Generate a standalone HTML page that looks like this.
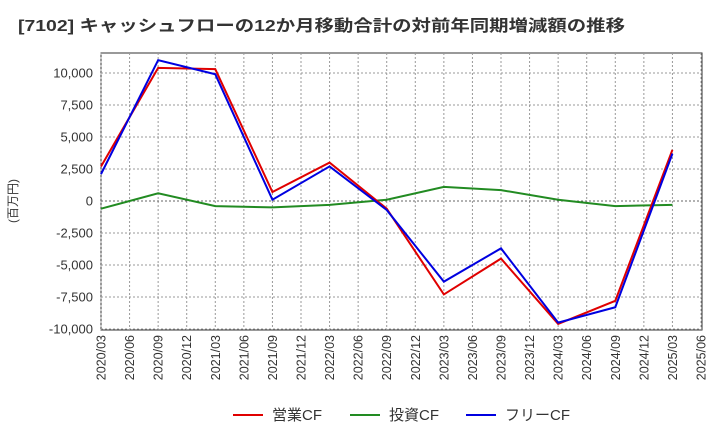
<!DOCTYPE html>
<html><head><meta charset="utf-8"><style>
body{margin:0;background:#fff;font-family:"Liberation Sans","Noto Sans CJK JP",sans-serif;}
svg text{font-family:"Liberation Sans","Noto Sans CJK JP",sans-serif;}
</style></head><body>
<svg id="c" width="720" height="440">
<text x="18" y="31" font-size="16" font-weight="bold" fill="#333" textLength="607" lengthAdjust="spacingAndGlyphs">[7102]  キャッシュフローの12か月移動合計の対前年同期増減額の推移</text>
<text transform="translate(17,201) rotate(-90)" font-size="12" text-anchor="middle" fill="#333">(百万円)</text>
<g id="grid"></g><g id="series"></g>
<g>
<line x1="233" y1="415" x2="263" y2="415" stroke="#e00000" stroke-width="2"/><text x="272" y="420" font-size="15" fill="#333">営業CF</text>
<line x1="350" y1="415" x2="380" y2="415" stroke="#228b22" stroke-width="2"/><text x="389" y="420" font-size="15" fill="#333">投資CF</text>
<line x1="466" y1="415" x2="496" y2="415" stroke="#0000e0" stroke-width="2"/><text x="505" y="420" font-size="15" fill="#333">フリーCF</text>
</g>
</svg>
<script>
const xTicks=["2020/03","2020/06","2020/09","2020/12","2021/03","2021/06","2021/09","2021/12","2022/03","2022/06","2022/09","2022/12","2023/03","2023/06","2023/09","2023/12","2024/03","2024/06","2024/09","2024/12","2025/03","2025/06"];
const yTicks=[10000,7500,5000,2500,0,-2500,-5000,-7500,-10000];
const periods=["2020/03","2020/09","2021/03","2021/09","2022/03","2022/09","2023/03","2023/09","2024/03","2024/09","2025/03"];
const operatingCF=[2700,10400,10300,700,3000,-600,-7300,-4500,-9600,-7800,4000];
const investingCF=[-600,600,-400,-500,-300,100,1100,850,100,-400,-300];
const freeCF=[2100,11000,9900,100,2700,-700,-6300,-3700,-9500,-8300,3700];
const L=101,R=702,T=53,B=330;
const xs=i=>L+i*(600/(xTicks.length-1));
const ys=v=>201-v*(128/10000);
const NS="http://www.w3.org/2000/svg";
const g=document.getElementById('grid'),s=document.getElementById('series');
function mk(tag,a,p){const e=document.createElementNS(NS,tag);for(const k in a)e.setAttribute(k,a[k]);p.appendChild(e);return e;}
const bg=mk('rect',{x:L,y:T,width:R-L,height:B-T,fill:'#fff',stroke:'#333'},g);


xTicks.forEach((t,i)=>{const x=xs(i);
 mk('line',{x1:x,y1:T,x2:x,y2:B,stroke:'#999','stroke-dasharray':'2,2'},g);
 const tx=mk('text',{transform:`translate(${x+4.5},${B+5}) rotate(-90)`,'font-size':12.5,'text-anchor':'end',fill:'#333'},g);tx.textContent=t;
 
 });
yTicks.forEach(v=>{const y=ys(v);
 mk('line',{x1:L,y1:y,x2:R,y2:y,stroke:v===0?'#666':'#999','stroke-dasharray':'2,2'},g);
 const tx=mk('text',{x:L-8,y:y+4.5,'font-size':13,'text-anchor':'end',fill:'#333'},g);tx.textContent=v.toLocaleString('en-US');
 
 });
function line(data,color,name){const pts=data.map((v,i)=>xs(xTicks.indexOf(periods[i]))+','+ys(v)).join(' ');
 const p=mk('polyline',{points:pts,fill:'none',stroke:color,'stroke-width':2},s);
 
 }
line(investingCF,'#228b22','investing-cf-line');
line(operatingCF,'#e00000','operating-cf-line');
line(freeCF,'#0000e0','free-cf-line');
</script>
</body></html>
